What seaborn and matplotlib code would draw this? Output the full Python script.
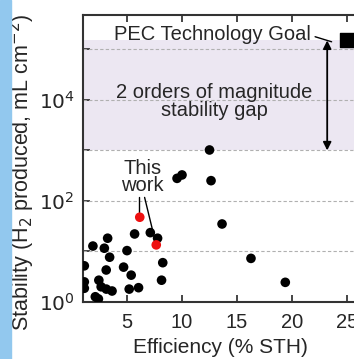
import numpy as np
import pandas as pd
import seaborn as sns
import matplotlib.pyplot as plt
from matplotlib.patches import Rectangle

# Literature data (efficiency in % STH, stability in mL cm^-2 H2)
lit_eff = [1.9, 3.24, 2.94, 3.42, 5.0, 5.69, 7.12, 7.78, 8.25, 8.14,
           1.12, 3.11, 4.69, 5.38, 2.44, 1.12, 2.65, 3.12, 3.64, 1.12,
           5.2, 6.05, 2.12, 2.4, 9.55, 10.0, 12.64, 13.64, 16.27, 19.39, 12.5]
lit_stab = [12.8, 18.3, 11.6, 7.7, 10.4, 22.2, 23.6, 18.3, 6.0, 2.7,
            5.2, 4.3, 4.9, 3.4, 2.7, 2.5, 2.0, 1.8, 1.65, 1.87,
            1.8, 1.92, 1.27, 1.15, 280, 327, 252, 35, 7.3, 2.45, 1020]

# This work
tw_eff = [6.16, 7.66]
tw_stab = [47.6, 13.5]

# PEC technology goal
goal_eff = 25
goal_stab = 1.5e5
gap_bottom = 1e3

df = pd.DataFrame({
    "eff": lit_eff + tw_eff,
    "stab": lit_stab + tw_stab,
    "src": ["lit"] * len(lit_eff) + ["this"] * len(tw_eff),
})

sns.set_style("ticks")
plt.rcParams["font.family"] = ["Liberation Sans", "DejaVu Sans"]

fig = plt.figure(figsize=(3.54, 3.59), dpi=100)
# blue strip on the far left (slide background)
fig.patches.append(Rectangle((0, 0), 11 / 354, 1, transform=fig.transFigure,
                             color="#92c8ee", zorder=0))
ax = fig.add_axes([83 / 354, 57 / 359, 286 / 354, 287 / 359])

ax.set_yscale("log")
ax.set_xlim(1, 27)
ax.set_ylim(1, 10 ** 5.68)

# stability gap shading + decade grid
ax.axhspan(gap_bottom, goal_stab, color="#ece7f2", zorder=0, lw=0)
for k in range(1, 6):
    ax.axhline(10 ** k, color="#b0b0b0", ls=(0, (3, 2)), lw=0.8, zorder=1)

sns.scatterplot(data=df, x="eff", y="stab", hue="src",
                palette={"lit": "black", "this": "#ee1111"},
                s=48, edgecolor="none", legend=False, ax=ax, zorder=3)
ax.scatter([goal_eff], [goal_stab], marker="s", s=95, color="black",
           zorder=4, clip_on=False)

ax.set_xticks([5, 10, 15, 20, 25])
ax.set_yticks([10 ** k for k in range(0, 6)])
ax.set_yticklabels(["$10^0$", "", "$10^2$", "", "$10^4$", ""])
ax.yaxis.set_minor_locator(plt.NullLocator())
ax.tick_params(direction="in", length=5, width=1.2, labelsize=14.5,
               top=True, right=True)
ax.tick_params(axis="x", pad=8)
ax.tick_params(axis="y", pad=6)
for sp in ax.spines.values():
    sp.set_linewidth(1.5)
    sp.set_color("#333333")

ax.set_xlabel("Efficiency (% STH)", fontsize=15)
ax.set_ylabel("Stability (H$_2$ produced, mL cm$^{-2}$)", fontsize=15.5)
ax.xaxis.set_label_coords(0.479, -0.126)
ax.yaxis.set_label_coords(-0.16, 0.45)

# annotations
ax.text(21.7, 10 ** 5.3, "PEC Technology Goal", ha="right", va="center",
        fontsize=14.5)
ax.plot([22.1, 23.6], [10 ** 5.25, 10 ** 5.15], color="black", lw=1)
ax.annotate("", xy=(23.2, goal_stab), xytext=(23.2, gap_bottom),
            arrowprops=dict(arrowstyle="<|-|>", color="black", lw=1.3,
                            mutation_scale=12, shrinkA=0, shrinkB=0))
ax.text(12.95, 10 ** 3.97, "2 orders of magnitude\nstability gap",
        ha="center", va="center", fontsize=14.5, linespacing=0.9)
ax.text(6.4, 10 ** 2.48, "This\nwork", ha="center", va="center",
        fontsize=14.5, linespacing=0.85)
ax.plot([6.12, 6.12], [10 ** 2.07, 10 ** 1.78], color="black", lw=1)
ax.plot([6.6, 7.55], [10 ** 2.07, 10 ** 1.22], color="black", lw=1)

fig.savefig("out.png", dpi=100)
